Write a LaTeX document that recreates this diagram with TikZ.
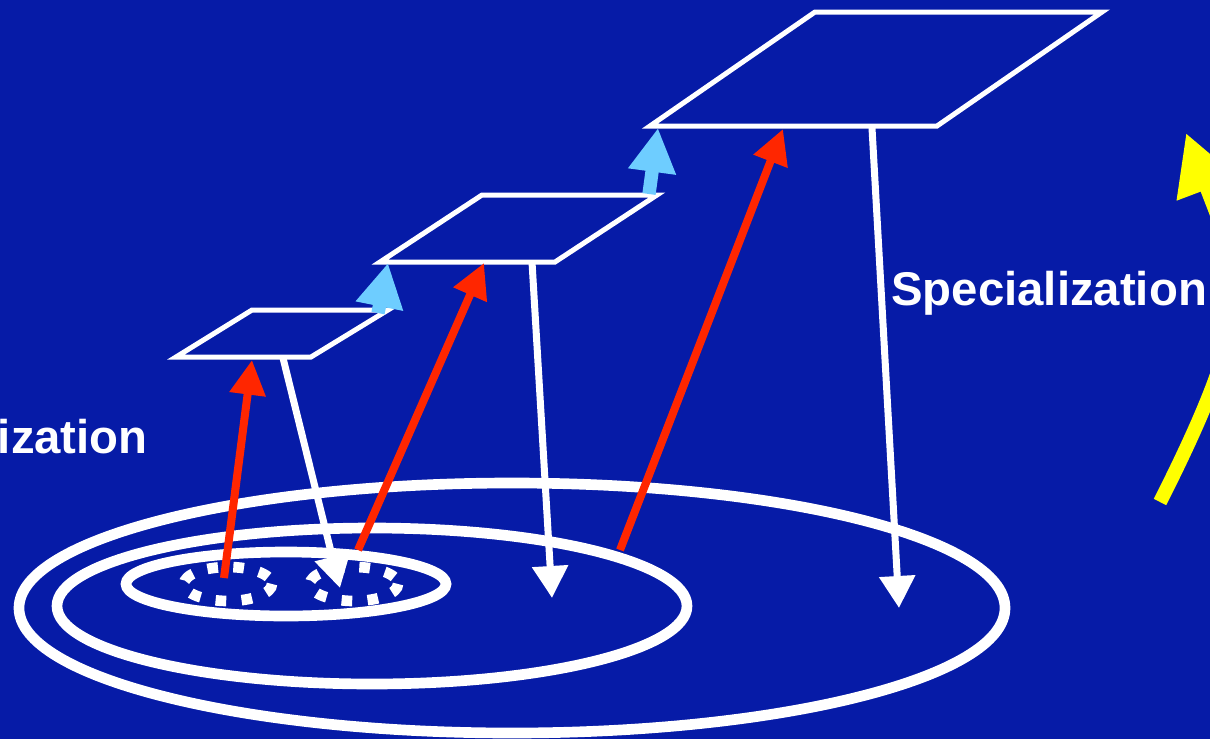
\documentclass[tikz,border=0pt]{standalone}
\usepackage{fontspec}
\setmainfont{Liberation Sans}
\usetikzlibrary{arrows.meta}
\definecolor{bg}{RGB}{6,27,167}
\definecolor{redarr}{RGB}{255,38,0}
\definecolor{bluearr}{RGB}{110,205,255}
\definecolor{yel}{RGB}{255,255,0}
\tikzset{
  ring/.style={draw=white, line width=8pt},
  dotring/.style={draw=white, line width=8pt, dash pattern=on 8pt off 11.5pt},
  plane/.style={draw=white, line width=3.75pt, line join=miter},
  spec/.style={draw=white, line width=5.25pt, -{Triangle[length=24pt,width=26pt]}},
  gen/.style={draw=redarr, line width=6pt, -{Triangle[length=26pt,width=26pt]}},
  up/.style={draw=bluearr, line width=10pt, -{Triangle[length=33pt,width=34pt]}},
  bigarr/.style={draw=yel, line width=10.5pt, -{Triangle[length=45pt,width=46pt]}},
  lbl/.style={text=white, font=\bfseries\fontsize{35.5}{40}\selectfont, inner sep=0pt}
}
\begin{document}
\begin{tikzpicture}[x=0.75pt,y=-0.75pt]
\fill[bg] (0,0) rectangle (1210,739);
\useasboundingbox (0,0) rectangle (1210,739);
\begin{scope}
\clip (0,0) rectangle (1210,739);
% ellipses
\draw[ring] (512,608) ellipse [x radius=493, y radius=125];
\draw[ring] (372,606) ellipse [x radius=315, y radius=78];
\draw[ring] (286,584) ellipse [x radius=160, y radius=32];
\draw[dotring] (228,584) ellipse [x radius=44, y radius=17];
\draw[dotring] (354,584) ellipse [x radius=44, y radius=17];
% planes
\draw[plane] (252,310) -- (388,310) -- (311,357) -- (176,357) -- cycle;
\draw[plane] (482,195) -- (657,195) -- (555,262) -- (380,262) -- cycle;
\draw[plane] (815,12) -- (1102,12) -- (937,126) -- (650,126) -- cycle;
% anchors
\coordinate (p1b) at (283,358);
\coordinate (p2b) at (532,262);
\coordinate (p3b) at (872,128);
\coordinate (s1) at (340,588);
\coordinate (s2) at (552,598);
\coordinate (s3) at (899,608);
\coordinate (g1) at (224,578);
\coordinate (g2) at (358,550);
\coordinate (g3) at (620,550);
\coordinate (t1) at (252,360);
\coordinate (t2) at (484,263);
\coordinate (t3) at (783,129);
\coordinate (u1s) at (378,313);
\coordinate (u1t) at (388,263);
\coordinate (u2s) at (649,194);
\coordinate (u2t) at (658,128);
\coordinate (ys) at (1160,502);
\coordinate (yt) at (1186,133);
% specialization arrows
\draw[spec] (p1b) -- (s1);
\draw[spec] (p2b) -- (s2);
\draw[spec] (p3b) -- (s3);
% generalization arrows
\draw[gen] (g1) -- (t1);
\draw[gen] (g2) -- (t2);
\draw[gen] (g3) -- (t3);
% level-up arrows
\draw[up] (u1s) -- (u1t);
\draw[up] (u2s) -- (u2t);
% big yellow arrow
\draw[bigarr] (ys) .. controls (1262,300) and (1240,276) .. (yt);
\end{scope}
% labels
\node[lbl, anchor=base west] (spl) at (891,305) {Specialization};
\node[lbl, anchor=base east] (gnl) at (148,453) {ization};
\end{tikzpicture}
\end{document}
